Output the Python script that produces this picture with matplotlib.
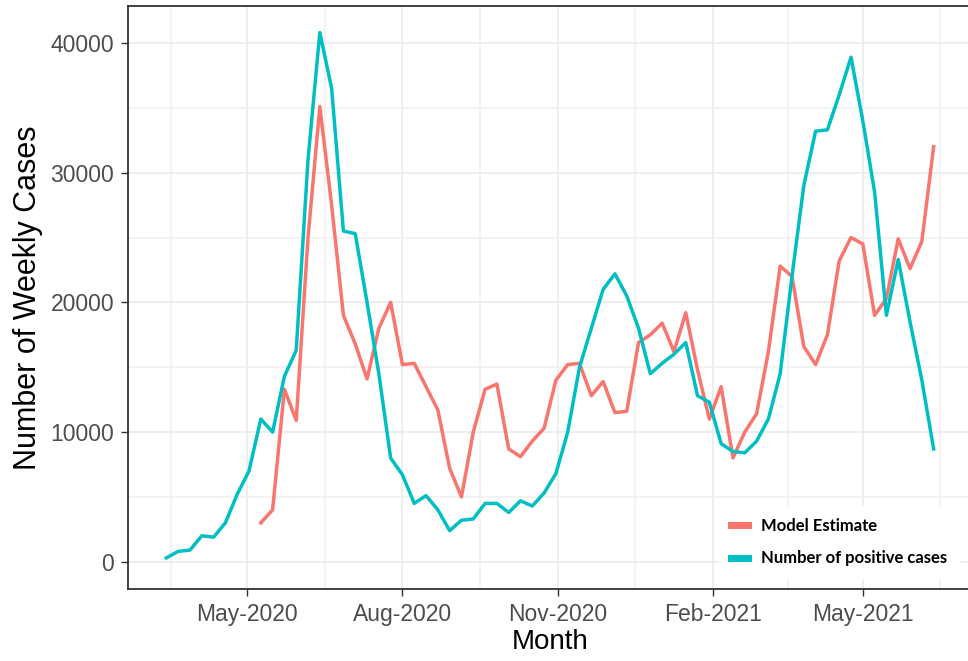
import numpy as np
import pandas as pd
import matplotlib
matplotlib.use('Agg')
import matplotlib.pyplot as plt
import matplotlib.dates as mdates

plt.rcParams['font.family'] = ['Liberation Sans', 'DejaVu Sans']

# weekly series, first week starting 14 Mar 2020
weeks = pd.date_range('2020-03-14', periods=66, freq='7D')

positive_cases = [
    300, 800, 900, 2000, 1900, 3000, 5200, 7000, 11000, 10000,
    14300, 16300, 31000, 40800, 36500, 25500, 25300, 20000, 14500, 8000,
    6700, 4500, 5100, 4000, 2400, 3200, 3300, 4500, 4500, 3800,
    4700, 4300, 5300, 6800, 10000, 15000, 18000, 21000, 22200, 20500,
    18000, 14500, 15300, 16000, 16900, 12800, 12300, 9100, 8500, 8400,
    9300, 11000, 14500, 22000, 29000, 33200, 33300, 36000, 38900, 34000,
    28500, 19000, 23300, 18500, 14000, 8700,
]

# model output only begins at week 8
model_start = 8
model_estimate = [
    3000, 4000, 13300, 10900, 25000, 35100, 27500, 19000, 16800, 14100,
    18000, 20000, 15200, 15300, 13500, 11700, 7200, 5000, 10000, 13300,
    13700, 8700, 8100, 9300, 10300, 14000, 15200, 15300, 12800, 13900,
    11500, 11600, 16900, 17500, 18400, 16200, 19200, 14800, 11000, 13500,
    8000, 10000, 11400, 16200, 22800, 22000, 16600, 15200, 17500, 23200,
    25000, 24500, 19000, 20300, 24900, 22600, 24700, 32000,
]

month_ticks = pd.to_datetime(['2020-05-01', '2020-08-01', '2020-11-01',
                              '2021-02-01', '2021-05-01'])
month_labels = ['May-2020', 'Aug-2020', 'Nov-2020', 'Feb-2021', 'May-2021']
y_ticks = [0, 10000, 20000, 30000, 40000]

red = '#F8766D'
teal = '#00BFC4'

fig = plt.figure(figsize=(9.68, 6.61), dpi=100)
ax = fig.add_axes([128 / 968, 72 / 661, 844 / 968, 583 / 661])

ax.plot(weeks[model_start:], model_estimate, color=red, linewidth=2.5,
        label='Model Estimate', zorder=3)
ax.plot(weeks, positive_cases, color=teal, linewidth=2.5,
        label='Number of positive cases', zorder=3)

# ggplot-like 5% expansion on both axes
span = weeks[-1] - weeks[0]
ax.set_xlim(weeks[0] - span * 0.05, weeks[-1] + span * 0.05)
ax.set_ylim(-2100, 42850)

ax.set_xticks(mdates.date2num(month_ticks))
ax.set_xticklabels(month_labels)
# minor breaks halfway between the monthly breaks
all_breaks = pd.to_datetime(['2020-02-01']).append(month_ticks).append(pd.to_datetime(['2021-08-01']))
minor = [all_breaks[i] + (all_breaks[i + 1] - all_breaks[i]) / 2 for i in range(len(all_breaks) - 1)]
ax.set_xticks(mdates.date2num(minor), minor=True)

ax.set_yticks(y_ticks)
ax.set_yticklabels([str(v) for v in y_ticks])
ax.set_yticks([5000, 15000, 25000, 35000], minor=True)

ax.grid(which='major', color='#EBEBEB', linewidth=1.2, zorder=0)
ax.grid(which='minor', color='#F0F0F0', linewidth=1.1, zorder=0)
ax.set_axisbelow(True)

ax.tick_params(which='major', length=5, width=1.0, color='#333333',
               labelsize=16.5, labelcolor='#4D4D4D', pad=5)
ax.tick_params(which='minor', length=0)

for side in ['left', 'top', 'bottom']:
    ax.spines[side].set_color('#333333')
    ax.spines[side].set_linewidth(1.3)
ax.spines['right'].set_visible(False)

ax.set_xlabel('Month', fontsize=20, labelpad=2)
ax.set_ylabel('Number of Weekly Cases', fontsize=22, labelpad=5)

leg = fig.legend(*ax.get_legend_handles_labels(), loc='center left',
                 bbox_to_anchor=(711 / 968, (661 - 542) / 661), frameon=True,
                 fancybox=False, framealpha=1, edgecolor='white',
                 handlelength=1.0, handletextpad=0.8, labelspacing=1.0,
                 borderpad=0.7,
                 prop={'family': 'Lato', 'weight': 'bold', 'size': 12})
for line in leg.get_lines():
    line.set_linewidth(5)

fig.savefig('out.png', dpi=100)
